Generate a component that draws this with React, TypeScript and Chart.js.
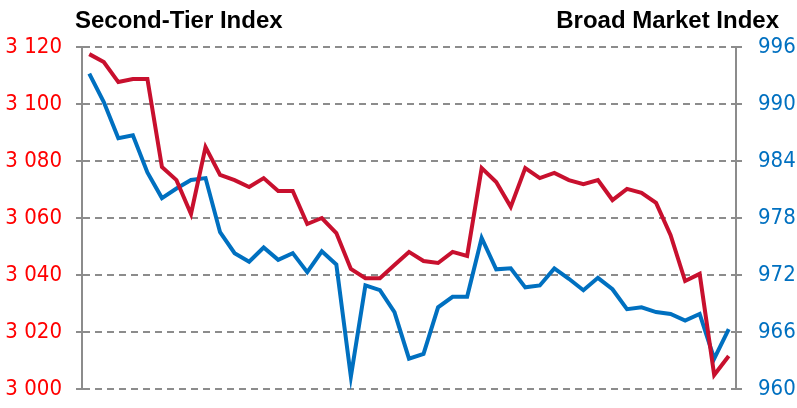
import React, { useEffect, useRef } from "react";
import { Chart, registerables } from "chart.js";

Chart.register(...registerables);

const categories: string[] = [
  "1", "2", "3", "4", "5", "6", "7", "8", "9", "10",
  "11", "12", "13", "14", "15", "16", "17", "18", "19", "20",
  "21", "22", "23", "24", "25", "26", "27", "28", "29", "30",
  "31", "32", "33", "34", "35", "36", "37", "38", "39", "40",
  "41", "42", "43", "44", "45",
];

const secondTier: number[] = [
  3117.5, 3114.7, 3107.7, 3108.8, 3108.8, 3077.9, 3073.3, 3061.4, 3084.9, 3075.1,
  3073.3, 3070.9, 3074.0, 3069.5, 3069.5, 3057.9, 3060.0, 3054.7, 3042.1, 3038.9,
  3038.9, 3043.5, 3048.1, 3044.9, 3044.2, 3048.1, 3046.7, 3077.5, 3072.6, 3063.9,
  3077.5, 3074.0, 3075.8, 3073.3, 3071.9, 3073.3, 3066.3, 3070.2, 3068.8, 3065.3,
  3054.0, 3037.9, 3040.4, 3004.9, 3011.6,
];

const broadMarket: number[] = [
  993.2, 990.2, 986.4, 986.7, 982.8, 980.1, 981.1, 982.0, 982.2, 976.5,
  974.3, 973.4, 974.9, 973.6, 974.3, 972.3, 974.5, 973.1, 961.3, 970.9,
  970.4, 968.1, 963.2, 963.7, 968.6, 969.7, 969.7, 975.9, 972.6, 972.7,
  970.7, 970.9, 972.7, 971.6, 970.4, 971.7, 970.5, 968.4, 968.6, 968.1,
  967.9, 967.2, 967.9, 963.2, 966.3,
];

const leftTitle = "Second-Tier Index";
const rightTitle = "Broad Market Index";

const leftMin = 3000;
const leftMax = 3120;
const leftStep = 20;
const rightMin = 960;
const rightMax = 996;
const rightStep = 6;

const GRID = "#8C8C8C";
const RED = "#C8102E";
const BLUE = "#0070C0";
const TICK_FONT = "'DejaVu Sans Condensed', 'Liberation Sans Narrow', 'DejaVu Sans', sans-serif";
const TITLE_FONT = "'Liberation Sans', Arial, sans-serif";

const fmtThousands = (v: number) => {
  const s = Math.round(v).toString();
  return s.replace(/\B(?=(\d{3})+(?!\d))/g, " ");
};

const titlesPlugin = {
  id: "titles",
  afterDraw(chart: any) {
    const ctx = chart.ctx;
    ctx.save();
    ctx.fillStyle = "#000000";
    ctx.font = `bold 24px ${TITLE_FONT}`;
    ctx.textBaseline = "alphabetic";
    ctx.textAlign = "left";
    ctx.fillText(leftTitle, 75, 28);
    ctx.textAlign = "right";
    ctx.fillText(rightTitle, 779, 28);
    ctx.restore();
  },
};

export default function App() {
  const ref = useRef<HTMLCanvasElement | null>(null);

  useEffect(() => {
    if (!ref.current) return;
    const chart = new Chart(ref.current, {
      type: "line",
      data: {
        labels: categories,
        datasets: [
          {
            label: leftTitle,
            data: secondTier,
            yAxisID: "yL",
            borderColor: RED,
            backgroundColor: RED,
            borderWidth: 4,
            pointRadius: 0,
            tension: 0,
            fill: false,
          },
          {
            label: rightTitle,
            data: broadMarket,
            yAxisID: "yR",
            borderColor: BLUE,
            backgroundColor: BLUE,
            borderWidth: 4,
            pointRadius: 0,
            tension: 0,
            fill: false,
          },
        ],
      },
      options: {
        responsive: false,
        animation: false,
        maintainAspectRatio: false,
        layout: { padding: { top: 47, bottom: 19, left: 0, right: 0 } },
        plugins: {
          legend: { display: false },
          tooltip: { enabled: false },
          title: { display: false },
        },
        scales: {
          x: {
            type: "category",
            display: false,
            offset: true,
          },
          yL: {
            type: "linear",
            position: "left",
            min: leftMin,
            max: leftMax,
            afterFit: (s: any) => {
              s.width = 82;
              s.paddingTop = 0;
              s.paddingBottom = 0;
            },
            ticks: {
              stepSize: leftStep,
              color: "#FF0000",
              padding: 14,
              font: { family: TICK_FONT, size: 22 },
              callback: (v: any) => fmtThousands(Number(v)),
            },
            grid: {
              color: GRID,
              lineWidth: 2,
              tickLength: 6,
              drawTicks: true,
              drawOnChartArea: true,
            },
            border: { display: true, color: GRID, width: 2, dash: [7, 5] },
          },
          yR: {
            type: "linear",
            position: "right",
            min: rightMin,
            max: rightMax,
            afterFit: (s: any) => {
              s.width = 61;
              s.paddingTop = 0;
              s.paddingBottom = 0;
            },
            ticks: {
              stepSize: rightStep,
              color: BLUE,
              padding: 16,
              font: { family: TICK_FONT, size: 22 },
            },
            grid: {
              color: GRID,
              lineWidth: 2,
              tickLength: 6,
              drawTicks: true,
              drawOnChartArea: false,
            },
            border: { display: true, color: GRID, width: 2 },
          },
        },
      },
      plugins: [titlesPlugin],
    });
    return () => chart.destroy();
  }, []);

  return (
    <div style={{ position: "absolute", left: 0, top: 0, width: 797, height: 408, background: "#ffffff" }}>
      <canvas ref={ref} width={797} height={408} />
    </div>
  );
}
